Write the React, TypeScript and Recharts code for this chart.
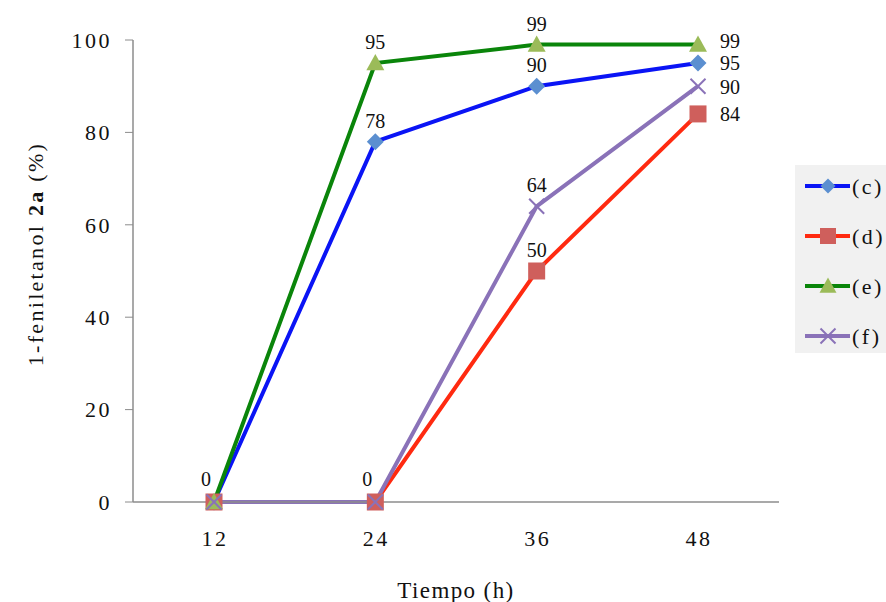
import React from "react";
import { LineChart, Line, XAxis, YAxis, LabelList } from "recharts";

const categories = ["12", "24", "36", "48"];
const seriesC = [0, 78, 90, 95];
const seriesD = [0, 0, 50, 84];
const seriesE = [0, 95, 99, 99];
const seriesF = [0, 0, 64, 90];
const yTicks = [0, 20, 40, 60, 80, 100];
const seriesNames = ["(c)", "(d)", "(e)", "(f)"];

const data = categories.map((t, i) => ({
  t,
  c: seriesC[i],
  d: seriesD[i],
  e: seriesE[i],
  f: seriesF[i],
}));

const FONT = "Liberation Serif, Times New Roman, serif";

type Shape = "diamond" | "square" | "triangle" | "x";

function Marker({ cx, cy, shape, color, size }: { cx: number; cy: number; shape: Shape; color: string; size: number }) {
  const h = size / 2;
  if (shape === "diamond") {
    return <polygon points={`${cx},${cy - h} ${cx + h},${cy} ${cx},${cy + h} ${cx - h},${cy}`} fill={color} />;
  }
  if (shape === "square") {
    return <rect x={cx - h} y={cy - h} width={size} height={size} fill={color} />;
  }
  if (shape === "triangle") {
    return <polygon points={`${cx},${cy - h} ${cx + h},${cy + h * 0.8} ${cx - h},${cy + h * 0.8}`} fill={color} />;
  }
  return (
    <g stroke={color} strokeWidth={2}>
      <line x1={cx - h} y1={cy - h} x2={cx + h} y2={cy + h} />
      <line x1={cx - h} y1={cy + h} x2={cx + h} y2={cy - h} />
    </g>
  );
}

const seriesCfg = [
  { key: "c", name: seriesNames[0], line: "#0a14f5", marker: "#5b8fd0", shape: "diamond" as Shape, size: 17, lsize: 15, rdy: 7, labels: ["tl", "top", "top", "right"] },
  { key: "d", name: seriesNames[1], line: "#ff2a10", marker: "#cf5f5c", shape: "square" as Shape, size: 17, lsize: 16, rdy: 7, labels: ["none", "tl", "top", "right"] },
  { key: "e", name: seriesNames[2], line: "#0a850a", marker: "#9bbb59", shape: "triangle" as Shape, size: 18, lsize: 17, rdy: 3, labels: ["none", "top", "top", "right"] },
  { key: "f", name: seriesNames[3], line: "#8a72b8", marker: "#8a72b8", shape: "x" as Shape, size: 15, lsize: 15, rdy: 8, labels: ["none", "none", "top", "right"] },
];

function makeLabel(positions: string[], rdy: number) {
  return (props: any) => {
    const { x, y, value, index } = props;
    const pos = positions[index];
    if (pos === "none" || x == null) return null;
    let tx = x;
    let ty = y - 14;
    let anchor: "middle" | "start" = "middle";
    if (pos === "tl") {
      tx = x - 8;
      ty = y - 16;
    } else if (pos === "right") {
      tx = x + 22;
      ty = y + rdy;
      anchor = "start";
    }
    return (
      <text x={tx} y={ty} textAnchor={anchor} fontFamily={FONT} fontSize={20} fill="#111">
        {value}
      </text>
    );
  };
}

function LegendBox() {
  return (
    <div style={{ position: "absolute", left: 795, top: 165, width: 91, height: 188, background: "#f1f1f1" }}>
      <svg width={91} height={188}>
        {seriesCfg.map((s, i) => {
          const cy = 21 + i * 50;
          return (
            <g key={s.key}>
              <line x1={10} y1={cy} x2={55} y2={cy} stroke={s.line} strokeWidth={4} />
              <Marker cx={33} cy={cy} shape={s.shape} color={s.marker} size={s.lsize} />
              <text x={57} y={cy + 8} fontFamily={FONT} fontSize={22} letterSpacing={2.5} fill="#111">
                {s.name}
              </text>
            </g>
          );
        })}
      </svg>
    </div>
  );
}

function YLabel() {
  return (
    <text
      x={38}
      y={254}
      transform="rotate(-90 38 254)"
      textAnchor="middle"
      dominantBaseline="middle"
      fontFamily={FONT}
      fontSize={22}
      letterSpacing={2.3}
      fill="#111"
    >
      1-feniletanol <tspan fontWeight="bold">2a</tspan> (%)
    </text>
  );
}

export default function App() {
  return (
    <div style={{ position: "absolute", left: 0, top: 0, width: 886, height: 602, background: "#fff" }}>
      <LineChart width={886} height={602} data={data} margin={{ top: 40, right: 107, left: 73, bottom: 70 }}>
        <XAxis
          dataKey="t"
          padding={{ left: 81, right: 81 }}
          axisLine={{ stroke: "#8c8c8c", strokeWidth: 1.5 }}
          tickLine={false}
          tick={{ fontFamily: FONT, fontSize: 22, letterSpacing: 2.5, fill: "#111", dy: 20, dx: 1 }}
          height={30}
          label={{ value: "Tiempo (h)", position: "insideBottom", offset: -66, fontFamily: FONT, fontSize: 23, letterSpacing: 1.4, fill: "#111" }}
        />
        <YAxis
          domain={[0, 100]}
          ticks={yTicks}
          width={60}
          axisLine={{ stroke: "#8c8c8c", strokeWidth: 1.5 }}
          tickLine={{ stroke: "#8c8c8c" }}
          tickSize={8}
          tick={{ fontFamily: FONT, fontSize: 22, letterSpacing: 2.5, fill: "#111", dx: -11 }}
          label={<YLabel />}
        />
        {seriesCfg.map((s) => (
          <Line
            key={s.key}
            dataKey={s.key}
            name={s.name}
            stroke={s.line}
            strokeWidth={4}
            isAnimationActive={false}
            dot={(p: any) => <Marker key={`${s.key}-${p.index}`} cx={p.cx} cy={p.cy} shape={s.shape} color={s.marker} size={s.size} />}
            activeDot={false}
          >
            <LabelList dataKey={s.key} content={makeLabel(s.labels, s.rdy)} />
          </Line>
        ))}
      </LineChart>
      <LegendBox />
    </div>
  );
}
